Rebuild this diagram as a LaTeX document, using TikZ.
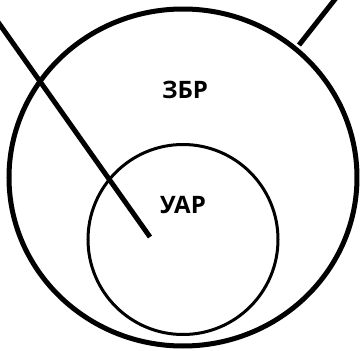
\documentclass[tikz,border=0pt]{standalone}
\usepackage{fontspec}
\setmainfont{Open Sans}
\usetikzlibrary{shapes.geometric}
\begin{document}
\begin{tikzpicture}[x=1pt,y=-1pt,
  outer/.style={draw,line width=5pt,ellipse,minimum width=348pt,minimum height=337pt,inner sep=0pt},
  inner/.style={draw,line width=3pt,circle,minimum size=190pt,inner sep=0pt},
  stick/.style={line width=5pt},
  lbl/.style={font=\bfseries\fontsize{24}{28}\selectfont,inner sep=0pt}]
\useasboundingbox (0,0) rectangle (360,351);
\node[outer] (zbr) at (183,177.5) {};
\node[inner] (uar) at (183,239.5) {};
\node[lbl] (t1) at (185,90) {ЗБР};
\node[lbl] (t2) at (183,205) {УАР};
\coordinate (a1) at (-2,22);
\coordinate (a2) at (150,237);
\coordinate (b1) at (299,45);
\coordinate (b2) at (336,-2);
\draw[stick] (a1) -- (a2);
\draw[stick] (b1) -- (b2);
\end{tikzpicture}
\end{document}
